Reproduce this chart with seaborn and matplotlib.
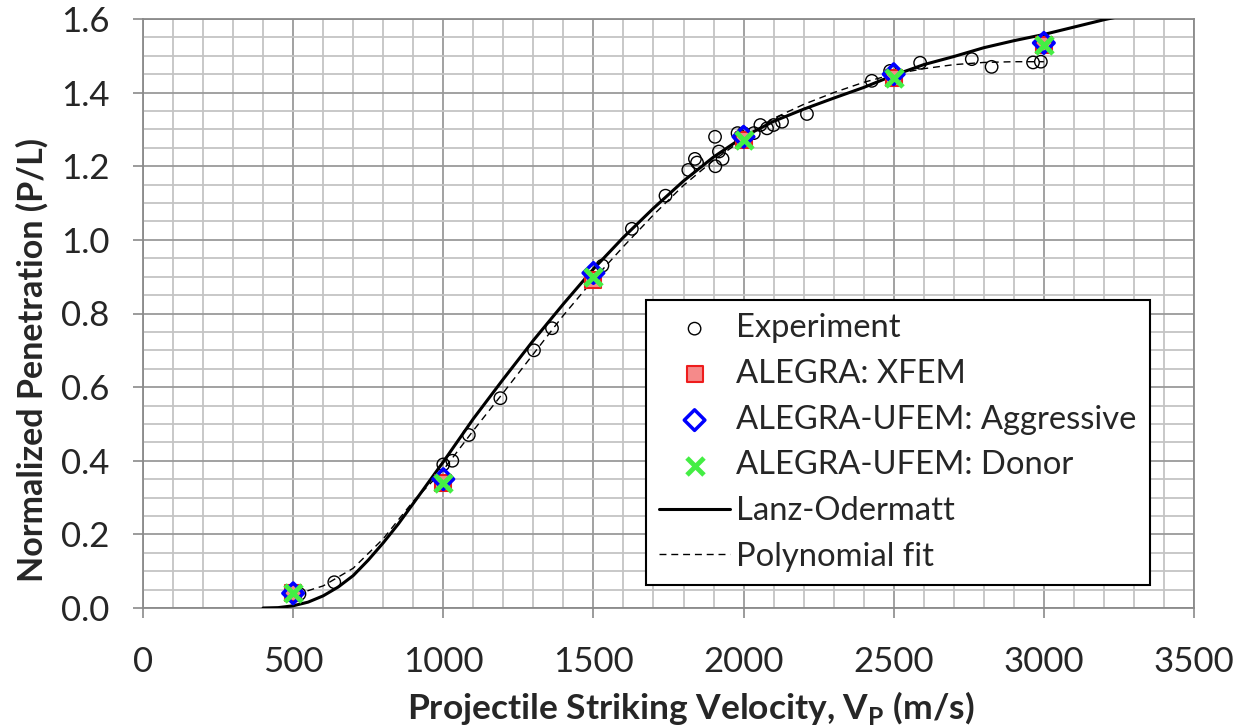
import matplotlib
matplotlib.use("Agg")
import matplotlib.pyplot as plt
import seaborn as sns
import numpy as np
from matplotlib.ticker import MultipleLocator

sns.set_style("white")
plt.rcParams['font.family'] = ['Lato', 'DejaVu Sans']

# ---------------- data ----------------
exp_v = [521, 637, 1000, 1030, 1085, 1190, 1302, 1362, 1530, 1628, 1740, 1816, 1838,
         1845, 1905, 1918, 1906, 1930, 1980, 1988, 2000, 2034, 2056, 2078, 2100, 2128,
         2211, 2427, 2488, 2588, 2760, 2826, 2964, 2990]
exp_pl = [0.038, 0.070, 0.390, 0.400, 0.470, 0.570, 0.700, 0.760, 0.930, 1.030, 1.120,
          1.190, 1.220, 1.210, 1.280, 1.240, 1.200, 1.220, 1.290, 1.280, 1.290, 1.290,
          1.312, 1.303, 1.312, 1.321, 1.342, 1.432, 1.459, 1.481, 1.491, 1.470, 1.482, 1.484]

sim_v = [500, 1000, 1500, 2000, 2500, 3000]
xfem_pl = [0.04, 0.34, 0.89, 1.27, 1.44, 1.53]
aggr_pl = [0.04, 0.35, 0.91, 1.28, 1.45, 1.535]
donor_pl = [0.04, 0.34, 0.90, 1.27, 1.44, 1.53]

lo_v = [400, 450, 500, 550, 600, 650, 700, 750, 800, 850, 900, 1000, 1100, 1200, 1300,
        1400, 1500, 1600, 1700, 1800, 1900, 2000, 2100, 2200, 2300, 2400, 2500, 2600,
        2700, 2800, 2900, 3000, 3100, 3200, 3300]
lo_pl = [0.0, 0.001, 0.006, 0.016, 0.033, 0.057, 0.088, 0.130, 0.177, 0.228, 0.284,
         0.397, 0.514, 0.622, 0.727, 0.826, 0.921, 1.007, 1.086, 1.160, 1.225, 1.280,
         1.322, 1.355, 1.385, 1.414, 1.447, 1.476, 1.498, 1.522, 1.541, 1.558, 1.578,
         1.598, 1.615]

poly_v = [510, 600, 700, 800, 900, 1000, 1100, 1200, 1300, 1400, 1500, 1600, 1700,
          1800, 1900, 2000, 2100, 2200, 2300, 2400, 2500, 2600, 2700, 2800, 2900, 3000]
poly_pl = [0.037, 0.060, 0.108, 0.188, 0.290, 0.375, 0.482, 0.585, 0.690, 0.795, 0.892,
           0.982, 1.068, 1.148, 1.216, 1.274, 1.330, 1.368, 1.400, 1.428, 1.450, 1.465,
           1.476, 1.482, 1.484, 1.484]

# ---------------- figure ----------------
W, H = 1241, 725
fig = plt.figure(figsize=(W / 100, H / 100), dpi=100)
L, R, T, B = 143, 1194, 19, 608
ax = fig.add_axes([L / W, 1 - B / H, (R - L) / W, (B - T) / H])

sns.lineplot(x=lo_v, y=lo_pl, ax=ax, color='black', linewidth=2.2, sort=False,
             label='Lanz-Odermatt', zorder=3)
sns.lineplot(x=poly_v, y=poly_pl, ax=ax, color='black', linewidth=1.0, sort=False,
             linestyle=(0, (5, 3.5)), label='Polynomial fit', zorder=3)

sns.scatterplot(x=exp_v, y=exp_pl, ax=ax, marker='o', s=80, edgecolor='black',
                linewidth=1.0, label='Experiment', zorder=4)
ax.collections[-1].set_facecolor('none')
sns.scatterplot(x=sim_v, y=xfem_pl, ax=ax, marker='s', s=120, color='#f58a8a',
                edgecolor='#ee1c1c', linewidth=1.5, label='ALEGRA: XFEM', zorder=5)
sns.scatterplot(x=sim_v, y=aggr_pl, ax=ax, marker='D', s=110, edgecolor='#0000ff',
                linewidth=2.5, label='ALEGRA-UFEM: Aggressive', zorder=6)
ax.collections[-1].set_facecolor('none')
sns.scatterplot(x=sim_v, y=donor_pl, ax=ax, marker='x', s=150, color='#44ee44',
                linewidth=3.5, label='ALEGRA-UFEM: Donor', zorder=7)

ax.set_xlim(0, 3500)
ax.set_ylim(0, 1.6)
ax.xaxis.set_minor_locator(MultipleLocator(100))
ax.yaxis.set_minor_locator(MultipleLocator(0.05))
ax.set_yticks(np.arange(0, 1.61, 0.2))
ax.set_yticklabels([f"{v:.1f}" for v in np.arange(0, 1.61, 0.2)])
ax.set_xticks(list(range(0, 3501, 500)))
ax.set_xticklabels([str(v) for v in range(0, 3501, 500)])

ax.grid(which='minor', color='#c4c4c4', linewidth=1.3, zorder=0)
ax.grid(which='major', color='#9a9a9a', linewidth=1.3, zorder=0)
ax.set_axisbelow(True)
for s in ax.spines.values():
    s.set_color('#8a8a8a')
    s.set_linewidth(1.3)
ax.tick_params(which='major', direction='out', length=7, width=1.2, color='#8a8a8a',
               labelsize=25, left=True, bottom=True)
ax.tick_params(axis='y', which='major', pad=17)
ax.tick_params(axis='x', which='major', pad=20)
ax.tick_params(which='minor', length=0)

ax.set_xlabel('Projectile Striking Velocity, V$_\\mathregular{P}$ (m/s)', fontsize=25.5,
              fontweight='bold')
ax.set_ylabel('Normalized Penetration (P/L)', fontsize=24.5, fontweight='bold')
ax.xaxis.set_label_coords(0.521, -0.137)
ax.yaxis.set_label_coords(-0.09, 0.421)

handles, labels = ax.get_legend_handles_labels()
order = ['Experiment', 'ALEGRA: XFEM', 'ALEGRA-UFEM: Aggressive', 'ALEGRA-UFEM: Donor',
         'Lanz-Odermatt', 'Polynomial fit']
hmap = dict(zip(labels, handles))
leg = ax.legend([hmap[k] for k in order], order, loc='lower right',
                bbox_to_anchor=(0.958, 0.039), fontsize=23.6, frameon=True, fancybox=False,
                edgecolor='black', framealpha=1, handlelength=2.15, handletextpad=0.2,
                labelspacing=0.48, borderpad=0.4, borderaxespad=0)
leg.get_frame().set_linewidth(1.5)
leg.set_zorder(10)

fig.savefig('out.png', dpi=100)
